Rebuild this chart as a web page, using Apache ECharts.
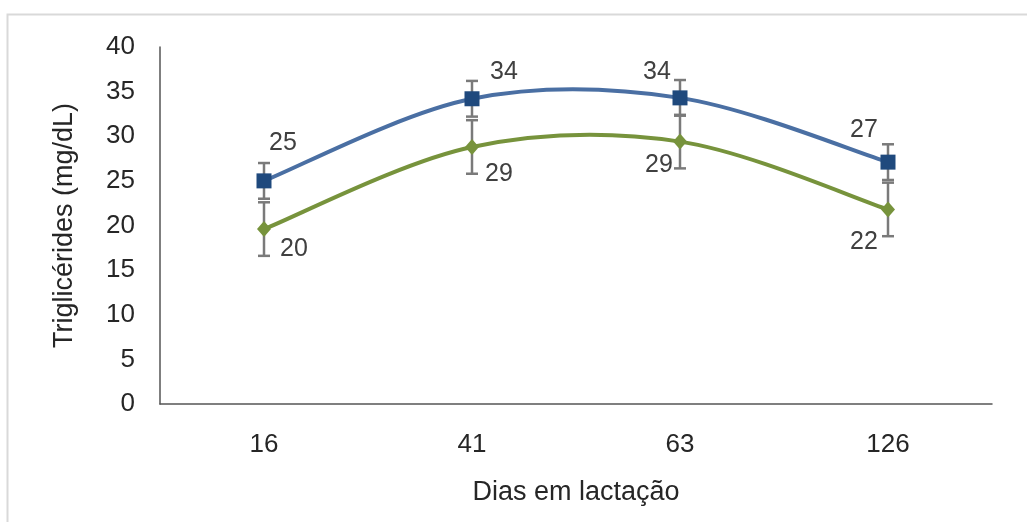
<!DOCTYPE html>
<html>
<head>
<meta charset="utf-8">
<script src="https://cdn.jsdelivr.net/npm/echarts@6/dist/echarts.min.js"></script>
<style>
  html, body { margin: 0; padding: 0; background: #fff; }
  #main { width: 1027px; height: 522px; }
</style>
</head>
<body>
<div id="main"></div>
<script>
(function() {
  const days = ['16', '41', '63', '126'];
  const blueValues = [25.0, 34.2, 34.3, 27.1];
  const blueError = [2.0, 2.0, 2.0, 2.0];
  const greenValues = [19.6, 28.8, 29.4, 21.8];
  const greenError = [3.0, 3.0, 3.0, 3.0];
  const yTicks = [0, 5, 10, 15, 20, 25, 30, 35, 40];

  // label placement around each point: [dx, dy]
  const blueLabelOffset = [[19, -38], [32, -27], [-23, -26], [-24, -32]];
  const greenLabelOffset = [[30, 20], [27, 27], [-21, 24], [-24, 33]];

  const myChart = echarts.init(document.getElementById('main'));

  const font = 'Liberation Sans, Arial, sans-serif';
  const textColor = '#262626';

  function errorData(values, errs) {
    return values.map(function (v, i) {
      return [i, v - errs[i], v + errs[i]];
    });
  }

  function renderError(params, api) {
    const x = api.value(0);
    const low = api.coord([x, api.value(1)]);
    const high = api.coord([x, api.value(2)]);
    const hw = 6;
    const style = { stroke: '#7a7a7a', lineWidth: 2.5 };
    return {
      type: 'group',
      children: [
        { type: 'line', shape: { x1: low[0], y1: low[1], x2: high[0], y2: high[1] }, style: style },
        { type: 'line', shape: { x1: low[0] - hw, y1: low[1], x2: low[0] + hw, y2: low[1] }, style: style },
        { type: 'line', shape: { x1: high[0] - hw, y1: high[1], x2: high[0] + hw, y2: high[1] }, style: style }
      ]
    };
  }

  // smoothed line like the spreadsheet one (cardinal spline through the points)
  function curveRenderer(values, color) {
    return function (params, api) {
      const i = params.dataIndex;
      const n = values.length;
      if (i >= n - 1) return null;
      const pt = function (k) {
        k = Math.max(0, Math.min(n - 1, k));
        return api.coord([k, values[k]]);
      };
      const p0 = pt(i - 1), p1 = pt(i), p2 = pt(i + 1), p3 = pt(i + 2);
      return {
        type: 'bezierCurve',
        shape: {
          x1: p1[0], y1: p1[1],
          x2: p2[0], y2: p2[1],
          cpx1: p1[0] + (p2[0] - p0[0]) / 6,
          cpy1: p1[1] + (p2[1] - p0[1]) / 6,
          cpx2: p2[0] - (p3[0] - p1[0]) / 6,
          cpy2: p2[1] - (p3[1] - p1[1]) / 6
        },
        style: { stroke: color, lineWidth: 4, fill: null, lineCap: 'round' }
      };
    };
  }

  function pointData(values, offsets) {
    return values.map(function (v, i) {
      return { value: v, label: { offset: offsets[i] } };
    });
  }

  const dataLabel = {
    show: true,
    position: 'inside',
    fontFamily: font,
    fontSize: 25,
    color: '#404040',
    formatter: function (p) { return Math.round(p.value); }
  };

  const option = {
    animation: false,
    backgroundColor: '#fff',
    graphic: [{
      type: 'rect',
      left: 5,
      top: 12,
      shape: { width: 1200, height: 700 },
      style: { fill: 'none', stroke: '#d9d9d9', lineWidth: 2 },
      z: -10
    }],
    grid: { left: 160, top: 47, width: 832, height: 357 },
    xAxis: {
      type: 'category',
      data: days,
      boundaryGap: true,
      name: 'Dias em lactação',
      nameLocation: 'middle',
      nameGap: 75,
      nameTextStyle: { fontFamily: font, fontSize: 27, color: textColor },
      axisLine: { lineStyle: { color: '#555', width: 1.5 } },
      axisTick: { show: false },
      axisLabel: { fontFamily: font, fontSize: 26, color: textColor, margin: 28 }
    },
    yAxis: {
      type: 'value',
      min: yTicks[0],
      max: yTicks[yTicks.length - 1],
      interval: 5,
      name: 'Triglicérides (mg/dL)',
      nameLocation: 'middle',
      nameGap: 82,
      nameTextStyle: { fontFamily: font, fontSize: 27, color: textColor },
      axisLine: { show: true, lineStyle: { color: '#555', width: 1.5 } },
      axisTick: { show: false },
      splitLine: { show: false },
      axisLabel: { fontFamily: font, fontSize: 26, color: textColor, margin: 25 }
    },
    series: [
      {
        type: 'custom',
        renderItem: renderError,
        data: errorData(greenValues, greenError),
        encode: { x: 0, y: [1, 2] },
        z: 1
      },
      {
        type: 'custom',
        renderItem: renderError,
        data: errorData(blueValues, blueError),
        encode: { x: 0, y: [1, 2] },
        z: 1
      },
      {
        type: 'custom',
        renderItem: curveRenderer(greenValues, '#77933c'),
        data: greenValues.map(function (v, i) { return [i, v]; }),
        encode: { x: 0, y: 1 },
        z: 2
      },
      {
        type: 'custom',
        renderItem: curveRenderer(blueValues, '#4a6fa3'),
        data: blueValues.map(function (v, i) { return [i, v]; }),
        encode: { x: 0, y: 1 },
        z: 2
      },
      {
        name: 'green',
        type: 'line',
        data: pointData(greenValues, greenLabelOffset),
        symbol: 'diamond',
        symbolSize: [14, 16],
        lineStyle: { opacity: 0 },
        itemStyle: { color: '#77933c' },
        label: dataLabel,
        z: 3
      },
      {
        name: 'blue',
        type: 'line',
        data: pointData(blueValues, blueLabelOffset),
        symbol: 'rect',
        symbolSize: 15,
        lineStyle: { opacity: 0 },
        itemStyle: { color: '#1f497d', borderRadius: 2 },
        label: dataLabel,
        z: 4
      }
    ]
  };

  myChart.setOption(option, true);
})();
</script>
</body>
</html>
